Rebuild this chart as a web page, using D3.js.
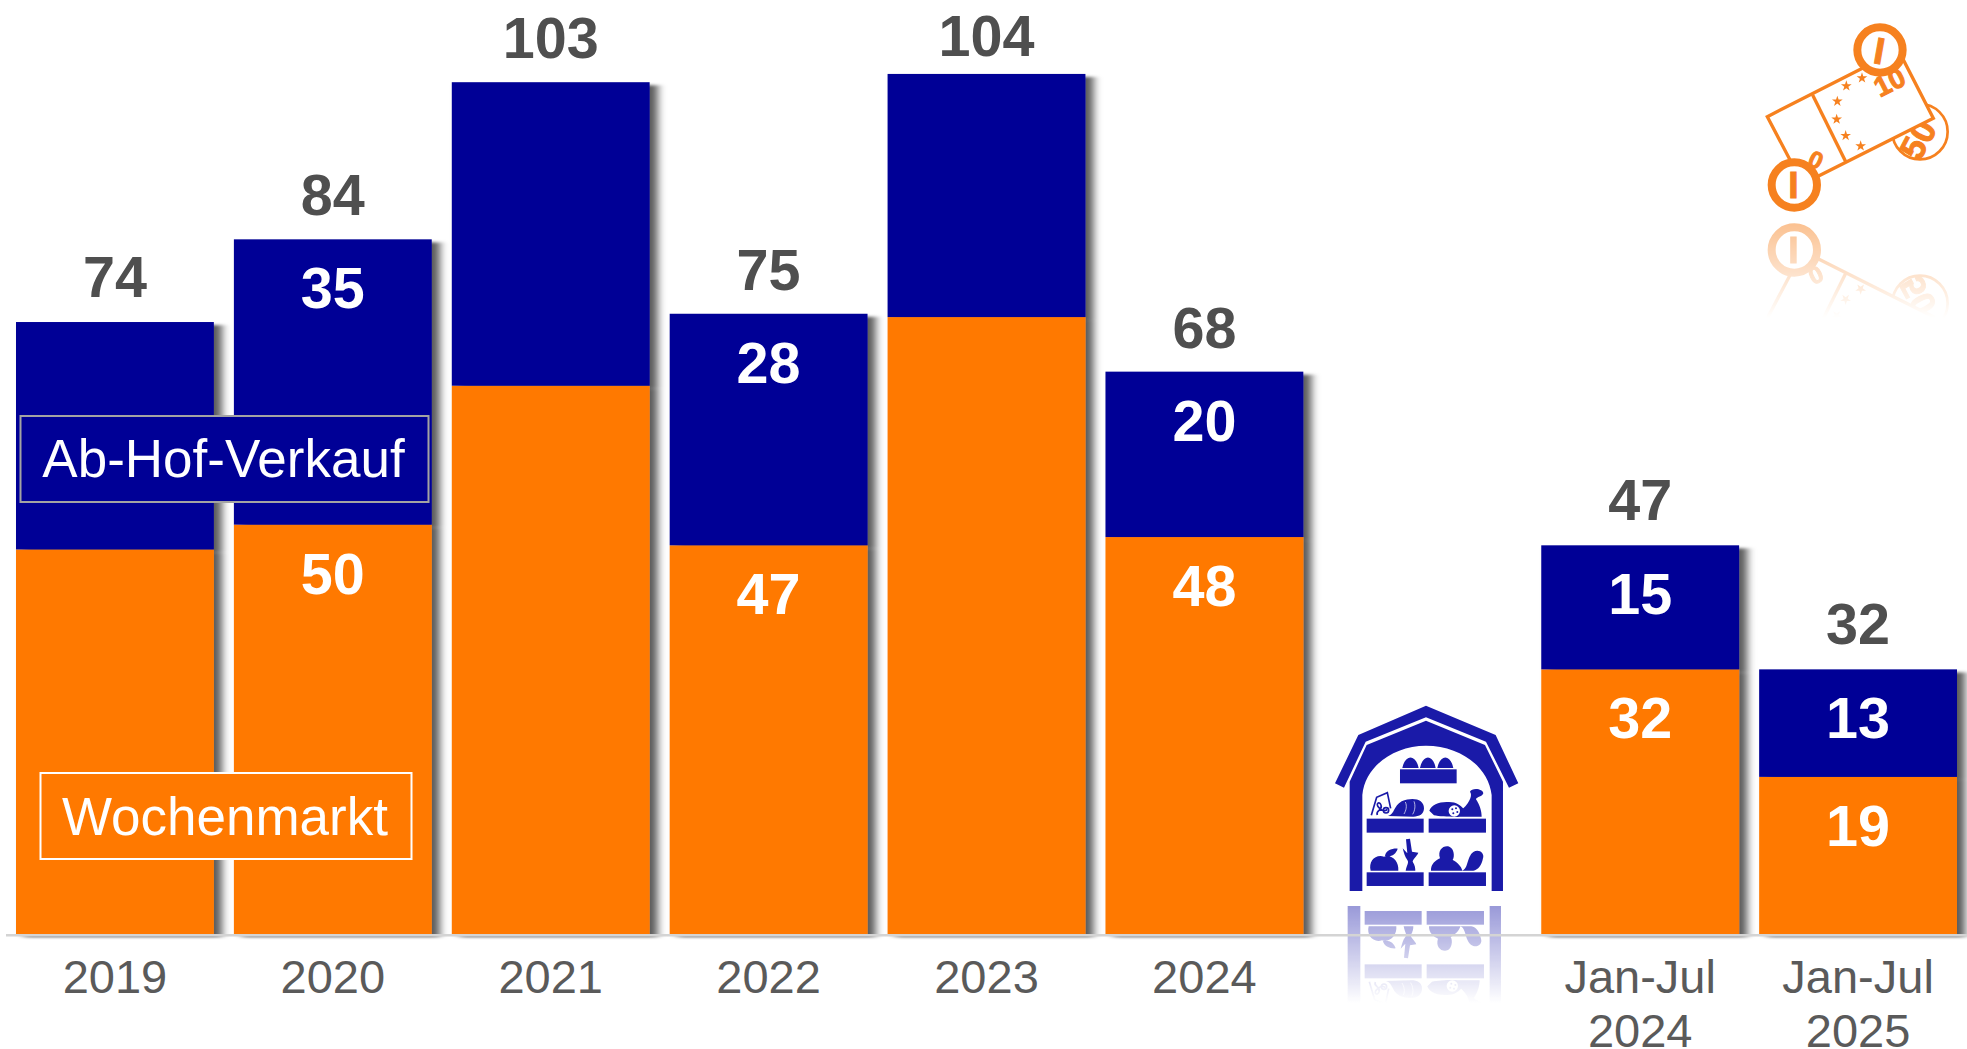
<!DOCTYPE html>
<html lang="de">
<head>
<meta charset="utf-8">
<title>Ab-Hof-Verkauf und Wochenmarkt</title>
<script src="https://cdn.jsdelivr.net/npm/d3@7/dist/d3.min.js"></script>
<style>
  html, body { margin: 0; padding: 0; background: #fff; overflow: hidden; }
  svg { display: block; font-family: "Liberation Sans", Arial, sans-serif; }
</style>
</head>
<body>
<svg id="chart" width="1967" height="1049"></svg>
<script>
// Sales by channel; the empty slot leaves room for the barn icon.
const categories = ["2019", "2020", "2021", "2022", "2023", "2024", "", "Jan-Jul 2024", "Jan-Jul 2025"];
const wochenmarkt = [46.5, 49.5, 66.3, 47, 74.6, 48, null, 32, 19];
const abHof       = [27.5, 34.5, 36.7, 28, 29.4, 20, null, 15, 13];
const totals      = [74, 84, 103, 75, 104, 68, null, 47, 32];
const segmentLabelled = [false, true, false, true, false, true, false, true, true];
// The tallest bar's total sits closer to its bar so it stays on the page
const totalGap    = [25, 24, 24, 24, 18, 24, 0, 25, 25];

const ORANGE = "#ff7900", BLUE = "#000096", GREY = "#5a5a5a", DARK = "#4f4f4f";
const ICON_BLUE = "#1a1aa8", ICON_ORANGE = "#f6811f";

const svg = d3.select("#chart");
const defs = svg.append("defs");

const x = d3.scaleBand().domain(categories).range([16, 1957]).paddingInner(0.092).paddingOuter(0);
const y = d3.scaleLinear().domain([0, 112.94]).range([934, 0]);

// Soft shadow that falls to the lower right of each bar
const shadow = defs.append("filter").attr("id", "barShadow")
  .attr("x", "-10%").attr("y", "-5%").attr("width", "130%").attr("height", "115%");
shadow.append("feDropShadow").attr("dx", 8).attr("dy", 3).attr("stdDeviation", "4 1.5")
  .attr("flood-color", "#000").attr("flood-opacity", 0.65);

// Fade-out masks for the mirrored icons
function fadeMask(id, x0, y0, w, h, start) {
  const g = defs.append("linearGradient").attr("id", id + "G")
    .attr("x1", 0).attr("x2", 0).attr("y1", 0).attr("y2", 1);
  g.append("stop").attr("offset", 0).attr("stop-color", "#fff").attr("stop-opacity", start);
  g.append("stop").attr("offset", 1).attr("stop-color", "#fff").attr("stop-opacity", 0);
  defs.append("mask").attr("id", id).attr("maskUnits", "userSpaceOnUse")
    .attr("x", x0).attr("y", y0).attr("width", w).attr("height", h)
    .append("rect").attr("x", x0).attr("y", y0).attr("width", w).attr("height", h)
    .attr("fill", `url(#${id}G)`);
}
fadeMask("barnFade", 1300, 905, 260, 98, 0.45);
fadeMask("logoFade", 1740, 222, 227, 96, 0.5);

// Barn icon, drawn in its own 3x grid
const barn = defs.append("g").attr("id", "barn").attr("fill", ICON_BLUE);
barn.append("path").attr("d", "M105 310L175 165L378 77L587 165L655 310L627 323L558 185L378 112L197 185L132 323Z");
barn.append("path")
  .attr("d", "M149 633V305L200 195L378 122L555 195L609 305V633H575V345C565 260 480 197 378 197C280 197 195 260 187 345V633Z");
[[300,268,170,42],[200,416,171,42],[386,416,172,42],[200,577,171,41],[386,577,172,41]].forEach(s =>
  barn.append("rect").attr("x", s[0]).attr("y", s[1]).attr("width", s[2]).attr("height", s[3]));
// eggs
barn.append("path").attr("d", "M307 264C315 222 348 222 356 264ZM360 264C368 222 400 222 407 264ZM412 264C420 222 452 222 460 264Z");
// bag with pretzel, then the loaf with its scores
barn.append("path").attr("fill", "none").attr("stroke", ICON_BLUE).attr("stroke-width", 5)
  .attr("d", "M214 406L230 352L262 338L272 385M232 405C225 390 250 392 243 375C237 362 226 372 236 382C245 392 255 395 262 388");
barn.append("circle").attr("cx", 258).attr("cy", 391).attr("r", 8).attr("fill", "none").attr("stroke", ICON_BLUE).attr("stroke-width", 5);
barn.append("path").attr("d", "M264 408C285 402 280 378 305 364C340 350 372 358 372 385C372 403 358 410 340 410Z");
barn.append("path").attr("fill", "none").attr("stroke", "#fff").attr("stroke-width", 2)
  .attr("d", "M316 366C322 378 318 392 312 402M342 364C347 376 345 392 338 403");
// sausage and ham
barn.append("path").attr("d", "M388 392C395 372 425 362 455 367C475 367 488 385 490 385C510 365 518 345 510 335C515 322 550 325 550 340C548 350 530 350 528 358C540 375 545 395 545 410H480C470 412 420 410 402 406Z");
barn.append("circle").attr("cx", 463).attr("cy", 393).attr("r", 17).attr("fill", "#fff");
[[457,388],[468,385],[472,396],[460,400]].forEach(p =>
  barn.append("circle").attr("cx", p[0]).attr("cy", p[1]).attr("r", 3));
// apple and carrot
barn.append("path").attr("d", "M212 572C205 545 225 522 252 530C275 522 298 545 295 572ZM255 528C258 512 275 505 293 506C288 522 275 532 255 528ZM317 572C320 555 328 548 322 540C314 530 312 518 308 505L322 520L318 478L330 476L336 515L355 518C350 530 340 535 338 545C345 555 346 565 346 572Z");
// potatoes
barn.append("path").attr("d", "M393 572C392 552 408 540 420 535C412 510 430 495 448 500C462 505 465 530 458 540C470 545 485 560 487 572ZM485 572C505 570 500 530 520 516C535 505 555 518 549 535C545 555 535 570 520 572Z");

svg.append("use").attr("href", "#barn").attr("transform", "translate(1300,680) scale(0.3333)");
svg.append("g").attr("mask", "url(#barnFade)")
  .append("use").attr("href", "#barn").attr("transform", "translate(1298,1117) scale(0.3333,-0.3333)");

// Euro note with coins, in its own 3x grid
const logo = defs.append("g").attr("id", "logo").attr("fill", "none").attr("stroke", ICON_ORANGE);
const glyph = (parent, size, px, py, rot, s) => parent.append("text").attr("stroke", ICON_ORANGE).attr("stroke-width", 3)
  .attr("fill", ICON_ORANGE).attr("font-weight", "bold").attr("text-anchor", "middle").attr("font-size", size)
  .attr("transform", `translate(${px},${py}) rotate(${rot})`).text(s);
logo.append("circle").attr("cx", 540).attr("cy", 395).attr("r", 83).attr("stroke-width", 8).attr("fill", "#fff");
glyph(logo, 104, 566, 436, -62, "50");
logo.append("path").attr("d", "M82 350L475 150L580 355L188 552Z").attr("fill", "#fff").attr("stroke-width", 10);
logo.append("path").attr("d", "M218 285L318 487").attr("stroke-width", 10);
glyph(logo, 84, 462, 272, -27, "10");
glyph(logo, 72, 217, 503, 25, "0");
[[366,234],[319,258],[292,304],[290,358],[317,407],[362,438]].forEach(s =>
  logo.append("path").attr("stroke", "none").attr("fill", ICON_ORANGE)
    .attr("transform", `translate(${s[0]},${s[1]})`)
    .attr("d", d3.symbol().type(d3.symbolStar).size(320)()));
logo.append("circle").attr("cx", 420).attr("cy", 150).attr("r", 68).attr("fill", "#fff").attr("stroke-width", 24);
logo.append("circle").attr("cx", 163).attr("cy", 555).attr("r", 68).attr("fill", "#fff").attr("stroke-width", 24);
glyph(logo, 112, 411, 191, 10, "I");
glyph(logo, 112, 160, 595, 0, "I");

svg.append("use").attr("href", "#logo").attr("transform", "translate(1740,0) scale(0.3333)");
svg.append("g").attr("mask", "url(#logoFade)")
  .append("use").attr("href", "#logo").attr("transform", "translate(1740,435) scale(0.3333,-0.3333)");

// Stacked bars
const rows = categories.map((c, i) => ({ c, w: wochenmarkt[i], a: abHof[i], total: totals[i], labelled: segmentLabelled[i], gap: totalGap[i] }))
  .filter(d => d.w !== null);

const bars = svg.append("g").selectAll("g").data(rows).join("g").attr("filter", "url(#barShadow)");
bars.append("rect").attr("x", d => x(d.c)).attr("width", x.bandwidth())
  .attr("y", d => y(d.w)).attr("height", d => y(0) - y(d.w)).attr("fill", ORANGE);
bars.append("rect").attr("x", d => x(d.c)).attr("width", x.bandwidth())
  .attr("y", d => y(d.w + d.a)).attr("height", d => y(d.w) - y(d.w + d.a)).attr("fill", BLUE);

// Baseline runs over the foot of the shadows
svg.append("line").attr("x1", 6).attr("x2", 1967).attr("y1", y(0) + 1.2).attr("y2", y(0) + 1.2)
  .attr("stroke", "#d4d4d4").attr("stroke-width", 2.4);

// Value labels: totals above, segment values just inside each segment's top
const labels = svg.append("g").attr("text-anchor", "middle").attr("font-weight", "bold").attr("font-size", 57.5);
const mid = d => x(d.c) + x.bandwidth() / 2;
labels.selectAll(".total").data(rows).join("text").attr("class", "total")
  .attr("x", mid).attr("y", d => y(d.w + d.a) - d.gap)
  .attr("fill", DARK).text(d => d.total);
labels.selectAll(".top").data(rows.filter(d => d.labelled)).join("text").attr("class", "top")
  .attr("x", mid).attr("y", d => y(d.w + d.a) + 69)
  .attr("fill", "#fff").text(d => Math.round(d.a));
labels.selectAll(".low").data(rows.filter(d => d.labelled)).join("text").attr("class", "low")
  .attr("x", mid).attr("y", d => y(d.w) + 69)
  .attr("fill", "#fff").text(d => Math.round(d.w));

// Category axis; the half-year labels wrap onto two lines
const axis = svg.append("g").attr("transform", `translate(0,${y(0)})`)
  .call(d3.axisBottom(x).tickSize(0));
axis.select(".domain").remove();
axis.selectAll("text").attr("font-size", 47).attr("font-family", "inherit").attr("fill", GREY)
  .attr("y", 0).attr("dy", 0)
  .each(function (d) {
    const t = d3.select(this).text(null);
    d.split(" ").forEach((part, i) =>
      t.append("tspan").attr("x", 0).attr("y", 59 + i * 54).text(part));
  });

// Series name boxes
const legends = [
  { name: "Ab-Hof-Verkauf", x0: 20.5, y0: 416, w: 408, h: 86, base: 61, fill: BLUE, stroke: "#a3a3a3" },
  { name: "Wochenmarkt", x0: 40.5, y0: 773, w: 371, h: 86, base: 62, fill: ORANGE, stroke: "#fff" }
];
const lg = svg.append("g").selectAll("g").data(legends).join("g");
lg.append("rect").attr("x", d => d.x0).attr("y", d => d.y0).attr("width", d => d.w).attr("height", d => d.h)
  .attr("fill", d => d.fill).attr("stroke", d => d.stroke).attr("stroke-width", 2);
lg.append("text").attr("x", d => d.x0 + d.w / 2 - 1).attr("y", d => d.y0 + d.base)
  .attr("text-anchor", "middle").attr("font-size", 53).attr("fill", "#fff").text(d => d.name);
</script>
</body>
</html>
